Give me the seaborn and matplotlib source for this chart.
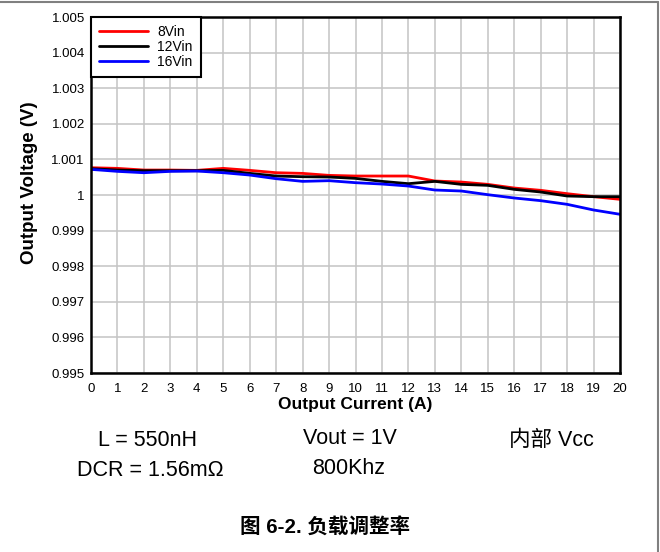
import matplotlib
matplotlib.use("Agg")
import matplotlib.pyplot as plt
import seaborn as sns
import pandas as pd
from matplotlib.lines import Line2D

current = list(range(21))
v_8vin = [1.000766, 1.000748, 1.000701, 1.000701, 1.000692, 1.000748, 1.000692, 1.000626,
          1.000607, 1.000551, 1.000533, 1.000533, 1.000533, 1.000393, 1.000364, 1.000299,
          1.000196, 1.000131, 1.000037, 0.999953, 0.999879]
v_12vin = [1.000738, 1.000701, 1.000682, 1.000682, 1.000682, 1.000692, 1.000607, 1.000533,
           1.000514, 1.000505, 1.000467, 1.000383, 1.000318, 1.000383, 1.000299, 1.000271,
           1.000159, 1.000084, 0.999972, 0.999953, 0.999953]
v_16vin = [1.000720, 1.000664, 1.000626, 1.000664, 1.000673, 1.000626, 1.000561, 1.000458,
           1.000383, 1.000402, 1.000346, 1.000308, 1.000252, 1.000140, 1.000112, 1.000009,
           0.999916, 0.999841, 0.999738, 0.999579, 0.999458]
series_names = ["8Vin", "12Vin", "16Vin"]
series_colors = ["#ff0000", "#000000", "#0000ff"]
x_ticks = list(range(0, 21))
y_ticks = [0.995, 0.996, 0.997, 0.998, 0.999, 1.0, 1.001, 1.002, 1.003, 1.004, 1.005]
y_tick_labels = ["0.995", "0.996", "0.997", "0.998", "0.999", "1", "1.001", "1.002", "1.003", "1.004", "1.005"]

df = pd.DataFrame({
    "Current": current * 3,
    "Voltage": v_8vin + v_12vin + v_16vin,
    "Series": [series_names[0]] * 21 + [series_names[1]] * 21 + [series_names[2]] * 21,
})

sns.set_theme(style="white")
plt.rcParams["font.family"] = ["Liberation Sans", "Noto Sans CJK SC", "DejaVu Sans"]
plt.rcParams["text.color"] = "black"
plt.rcParams["axes.labelcolor"] = "black"
plt.rcParams["xtick.color"] = "black"
plt.rcParams["ytick.color"] = "black"

fig = plt.figure(figsize=(6.6, 5.52), dpi=100)
ax = fig.add_axes([91 / 660, 1 - 373 / 552, 529 / 660, 356 / 552])

sns.lineplot(data=df, x="Current", y="Voltage", hue="Series", hue_order=series_names,
             palette=series_colors, linewidth=2.0, ax=ax, legend=False)

ax.set_xlim(0, 20)
ax.set_ylim(0.995, 1.005)
ax.set_xticks(x_ticks)
ax.set_xticklabels([str(t) for t in x_ticks], fontsize=9.5)
ax.set_yticks(y_ticks)
ax.set_yticklabels(y_tick_labels, fontsize=9.5)
ax.tick_params(axis="x", length=0, pad=7)
ax.tick_params(axis="y", length=0, pad=4.5)
ax.grid(True, color="#c4c4c4", linewidth=1.1)
ax.set_axisbelow(True)
for s in ax.spines.values():
    s.set_color("black")
    s.set_linewidth(1.8)

ax.set_xlabel("Output Current (A)", fontsize=12.5, fontweight="bold", labelpad=2)
ax.set_ylabel("Output Voltage (V)", fontsize=13.5, fontweight="bold")
ax.yaxis.set_label_coords(-(91 - 38) / 529, (373 - 182.5) / 356)

handles = [Line2D([0], [0], color=c, linewidth=2.0) for c in series_colors]
leg = ax.legend(handles, series_names, loc="upper left", bbox_to_anchor=(0, 1),
                fontsize=10, frameon=True, fancybox=False, borderaxespad=0,
                handlelength=3.5, handletextpad=0.65, labelspacing=0.05,
                borderpad=0.6)
leg.get_frame().set_edgecolor("black")
leg.get_frame().set_linewidth(1.5)
leg.get_frame().set_alpha(1)

fs = 15.5
fig.text(148 / 660, 1 - 441 / 552, "L = 550nH", fontsize=fs, ha="center", va="center")
fig.text(350 / 660, 1 - 439 / 552, "Vout = 1V", fontsize=fs, ha="center", va="center")
fig.text(551 / 660, 1 - 441 / 552, "内部 Vcc", fontsize=fs, ha="center", va="center")
fig.text(150 / 660, 1 - 471 / 552, "DCR = 1.56m\u03a9", fontsize=fs, ha="center", va="center")
fig.text(349 / 660, 1 - 469 / 552, "800Khz", fontsize=fs, ha="center", va="center")
fig.text(325 / 660, 1 - 528 / 552, "图 6-2. 负载调整率", fontsize=14.8, fontweight="bold",
         ha="center", va="center")

fig.add_artist(Line2D([0, 657.5 / 660], [1 - 1.5 / 552, 1 - 1.5 / 552], transform=fig.transFigure,
                      color="#808080", linewidth=1.5))
fig.add_artist(Line2D([657.5 / 660, 657.5 / 660], [0, 1 - 1.5 / 552], transform=fig.transFigure,
                      color="#808080", linewidth=1.5))

fig.savefig("out.png", dpi=100)
